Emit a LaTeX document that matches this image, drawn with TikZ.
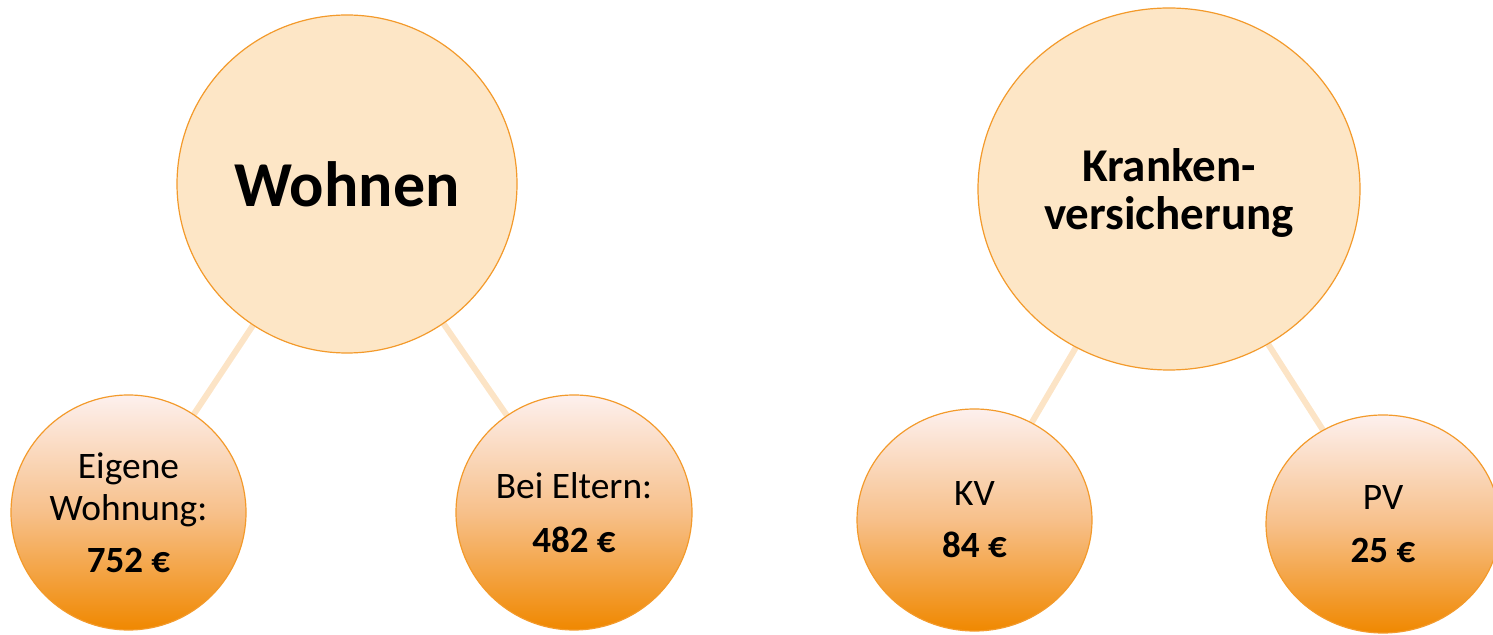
\documentclass[tikz,border=0pt]{standalone}
\usepackage{fontspec}
\setmainfont{Carlito}
\usepackage{xcolor}
\usepackage{tikz}
\usetikzlibrary{shapes.geometric}
\usetikzlibrary{backgrounds}
\definecolor{peach}{HTML}{FDE6C6}
\definecolor{rim}{HTML}{F39A2B}
\definecolor{stemcol}{HTML}{FCE4C6}
\definecolor{pale}{HTML}{FDF0EE}
\definecolor{midorange}{HTML}{F7C08A}
\definecolor{deep}{HTML}{F08800}
\tikzset{
  topic/.style={draw=rim, line width=0.6pt, fill=peach, ellipse, inner sep=0, align=center, text depth=0pt},
  item/.style={draw=rim, line width=0.6pt, ellipse, inner sep=0, align=center, text depth=0pt,
    top color=pale, bottom color=deep, middle color=midorange,
    font=\fontsize{18.7}{21}\selectfont},
  stem/.style={draw=stemcol, line width=3pt}
}
\newcommand{\amount}[1]{{\bfseries\fontsize{18.5}{21}\selectfont #1}}

\begin{document}
\begin{tikzpicture}[x=0.5pt, y=-0.5pt]
\useasboundingbox (0,0) rectangle (1493,635);
\node[topic, minimum width=170pt, minimum height=169pt, font=\bfseries\fontsize{32}{38}\selectfont] (wohnen) at (347,184) {Wohnen};
\node[topic, minimum width=191pt, minimum height=181pt, font=\bfseries\fontsize{23.5}{24.2}\selectfont] (kranken) at (1169,189) {Kranken-\\versicherung};
\node[item, minimum width=117.5pt, minimum height=117.5pt] (eigene) at (128.5,512.5) {Eigene\\Wohnung:\\[5pt]\amount{752 €}};
\node[item, minimum width=118pt, minimum height=117.5pt] (eltern) at (574,512.5) {Bei Eltern:\\[6pt]\amount{482 €}};
\node[item, minimum width=117.5pt, minimum height=111pt] (kv) at (974.5,520) {KV\\[5pt]\amount{84 €}};
\node[item, minimum width=117pt, minimum height=109pt] (pv) at (1383,524) {PV\\[5.5pt]\amount{25 €}};
\begin{scope}[on background layer]
\path[stem] (wohnen) edge (eigene);
\path[stem] (wohnen) edge (eltern);
\path[stem] (kranken) edge (kv);
\path[stem] (kranken) edge (pv);
\end{scope}
\end{tikzpicture}
\end{document}
